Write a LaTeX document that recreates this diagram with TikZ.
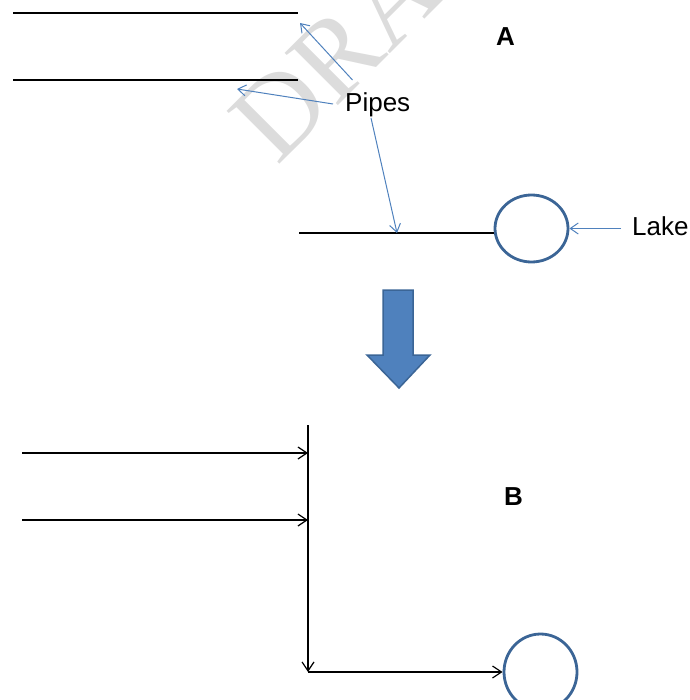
\documentclass[tikz,border=0pt]{standalone}
\usepackage{fontspec}
\setmainfont{Liberation Sans}
\newfontfamily\wmfont{Liberation Serif}
\usetikzlibrary{arrows.meta,shapes.geometric}
\definecolor{pipeblue}{HTML}{4F81BD}
\definecolor{darkblue}{HTML}{3B6596}
\definecolor{wmgray}{HTML}{DCDCDC}
\tikzset{
  pipe/.style={black, line width=1.3pt},
  flow/.style={black, line width=1.3pt, -{Straight Barb[length=9pt,width=12pt,line width=1.2pt]}},
  callout/.style={pipeblue, line width=1pt, -{Straight Barb[length=8pt,width=11pt,line width=1pt]}},
  lake/.style={ellipse, draw=darkblue, line width=2.8pt, fill=white, inner sep=0pt},
  lbl/.style={inner sep=0pt, font=\fontsize{26}{26}\selectfont},
  bold/.style={inner sep=0pt, font=\fontsize{26}{26}\selectfont\bfseries},
  bigarrow/.style={fill=pipeblue, draw=darkblue, line width=1.5pt, line join=miter}
}
\begin{document}
\begin{tikzpicture}[x=1pt, y=-1pt]
\useasboundingbox (0,0) rectangle (689,700);
\clip (0,0) rectangle (689,700);
% watermark
\node[wmgray, inner sep=0pt, anchor=base west, rotate=45, font=\wmfont\fontsize{114}{114}\selectfont] (wm) at (277,167) {DRAFT};
% ---------- A ----------
\coordinate (l1s) at (13,13);  \coordinate (l1e) at (298,13);
\coordinate (l2s) at (13,80);  \coordinate (l2e) at (298,80);
\coordinate (l3s) at (299,233);
\draw[pipe] (l1s) -- (l1e);
\draw[pipe] (l2s) -- (l2e);
\node[lake, minimum width=73pt, minimum height=67pt] (lakeA) at (531.5,228.5) {};
\draw[pipe] (l3s) -- (l3s -| lakeA.west);
\node[lbl, anchor=base west] (pipes) at (345,111.5) {Pipes};
\node[lbl, anchor=base west] (lakelbl) at (632,236) {Lake};
\node[bold, anchor=base west] (labA) at (496,46) {A};
\coordinate (c1s) at (352.5,80);  \coordinate (c1e) at (300,23);
\coordinate (c2s) at (333,104);   \coordinate (c2e) at (237,89);
\coordinate (c3s) at (371,118);   \coordinate (c3e) at (397,233);
\draw[callout] (c1s) -- (c1e);
\draw[callout] (c2s) -- (c2e);
\draw[callout] (c3s) -- (c3e);
\coordinate (lks) at (621,228.5);
\draw[callout] (lks) -- (lakeA.east);
% ---------- big arrow ----------
\draw[bigarrow] (383,290) -- (413,290) -- (413,355) -- (430,355) -- (399,388) -- (367,355) -- (383,355) -- cycle;
% ---------- B ----------
\coordinate (vtop) at (308,425);
\coordinate (vbot) at (308,672);
\coordinate (i1) at (22,453);  \coordinate (j1) at (308,453);
\coordinate (i2) at (22,520);  \coordinate (j2) at (308,520);
\draw[flow] (i1) -- (j1);
\draw[flow] (i2) -- (j2);
\draw[flow] (vtop) -- (vbot);
\node[lake, minimum width=73pt, minimum height=76pt] (lakeB) at (540.5,672) {};
\draw[flow] (vbot) -- (lakeB.west);
\node[bold, anchor=base west] (labB) at (504,505) {B};
\end{tikzpicture}
\end{document}
